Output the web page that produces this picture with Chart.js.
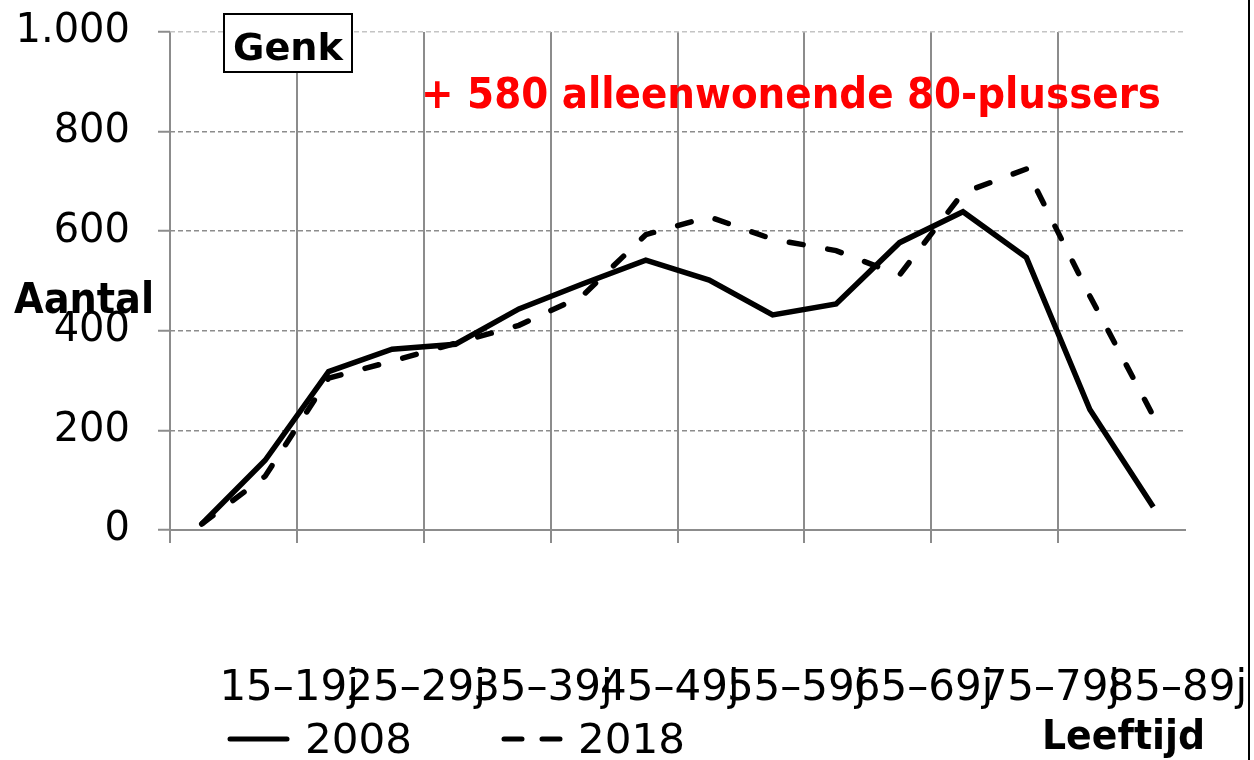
<!DOCTYPE html>
<html>
<head>
<meta charset="utf-8">
<script src="https://cdn.jsdelivr.net/npm/chart.js@4.4.1/dist/chart.umd.min.js"></script>
<style>
  html, body { margin: 0; padding: 0; background: #fff; }
  #wrap { width: 1254px; height: 760px; }
</style>
</head>
<body>
<div id="wrap"><canvas id="chart" width="1254" height="760"></canvas></div>
<script>
// age groups (x axis), only every other one gets a label
const ageGroups = ['10–14j', '15–19j', '20–24j', '25–29j', '30–34j', '35–39j', '40–44j', '45–49j',
                   '50–54j', '55–59j', '60–64j', '65–69j', '70–74j', '75–79j', '80–84j', '85–89j'];
// number of people living alone
const values2008 = [12, 140, 318, 363, 373, 444, 494, 542, 502, 432, 454, 577, 639, 547, 242, 46];
const values2018 = [12, 108, 305, 339, 375, 411, 470, 593, 629, 584, 561, 512, 677, 725, 470, 229];
const seriesNames = ['2008', '2018'];
const yTicks = [0, 200, 400, 600, 800, 1000];

const GRID = '#8c8c8c';
const FONT = 'DejaVu Sans';

function fmt(v) {
    return String(v).replace(/\B(?=(\d{3})+(?!\d))/g, '.');
}

// draw text squeezed/stretched to a given width
function fitText(ctx, text, x, y, width, font, color) {
    ctx.save();
    ctx.font = font;
    ctx.fillStyle = color;
    ctx.textAlign = 'left';
    ctx.textBaseline = 'alphabetic';
    const w = ctx.measureText(text).width;
    ctx.translate(x, y);
    ctx.scale(width / w, 1);
    ctx.fillText(text, 0, 0);
    ctx.restore();
}

const extras = {
    id: 'extras',
    afterDraw(chart) {
        const ctx = chart.ctx;
        const ds = chart.data.datasets;

        // "Genk" box
        ctx.save();
        ctx.fillStyle = '#fff';
        ctx.fillRect(224, 14, 128, 58);
        ctx.strokeStyle = '#000';
        ctx.lineWidth = 2;
        ctx.strokeRect(224, 14, 128, 58);
        ctx.restore();
        fitText(ctx, 'Genk', 233, 60, 110, 'bold 38px "' + FONT + '"', '#000');

        fitText(ctx, '+ 580 alleenwonende 80-plussers', 421, 108, 740,
            'bold 43px "DejaVu Sans Condensed", "DejaVu Sans", sans-serif', '#ff0000');

        // axis titles
        fitText(ctx, 'Aantal', 14, 313, 140, 'bold 42px "' + FONT + '"', '#000');
        fitText(ctx, 'Leeftijd', 1042, 749, 163, 'bold 41px "' + FONT + '"', '#000');

        // legend
        const legendX = [230, 504];
        const textX = [305, 578];
        ds.forEach((d, i) => {
            ctx.save();
            ctx.strokeStyle = d.borderColor;
            ctx.lineWidth = 5;
            ctx.lineCap = 'round';
            ctx.setLineDash(d.borderDash && d.borderDash.length ? [18, 20] : []);
            ctx.beginPath();
            ctx.moveTo(legendX[i], 739);
            ctx.lineTo(legendX[i] + 57, 739);
            ctx.stroke();
            ctx.restore();
            fitText(ctx, d.label, textX[i], 753, 107, '40px "' + FONT + '"', '#000');
        });

        // right frame edge
        ctx.save();
        ctx.strokeStyle = '#000';
        ctx.lineWidth = 2;
        ctx.beginPath();
        ctx.moveTo(1249, 0);
        ctx.lineTo(1249, 760);
        ctx.stroke();
        ctx.restore();
    }
};

new Chart(document.getElementById('chart'), {
    type: 'line',
    data: {
        labels: ageGroups,
        datasets: [{
            label: seriesNames[0],
            data: values2008,
            borderColor: '#000',
            borderWidth: 5.5,
            pointRadius: 0,
            tension: 0,
            fill: false
        }, {
            label: seriesNames[1],
            data: values2018,
            borderColor: '#000',
            borderWidth: 5.5,
            borderDash: [14, 25],
            borderCapStyle: 'round',
            pointRadius: 0,
            tension: 0,
            fill: false
        }]
    },
    options: {
        responsive: false,
        animation: false,
        layout: { padding: { top: 32, right: 69, left: 0, bottom: 0 } },
        plugins: {
            legend: { display: false },
            tooltip: { enabled: false }
        },
        scales: {
            x: {
                offset: true,
                grid: {
                    offset: true,
                    color: c => c.index % 2 === 0 ? GRID : 'rgba(0,0,0,0)',
                    lineWidth: 2,
                    tickLength: 13
                },
                border: { display: true, color: GRID, width: 2 },
                ticks: {
                    autoSkip: false,
                    maxRotation: 0,
                    minRotation: 0,
                    padding: 121,
                    labelOffset: 24,
                    color: '#000',
                    font: { family: FONT, size: 42 },
                    callback: (v, i) => i % 2 === 1 ? ageGroups[i] : ''
                },
                afterFit: s => {
                    s.height = 230;
                    s.paddingLeft = 0;
                    s.paddingRight = 0;
                }
            },
            y: {
                min: 0,
                max: 1000,
                border: { display: false, dash: [5, 3] },
                grid: {
                    color: c => {
                        const v = c.tick ? c.tick.value : -1;
                        if (v === 0 || !yTicks.includes(v)) return 'rgba(0,0,0,0)';
                        return v === 1000 ? '#c4c4c4' : GRID;
                    },
                    lineWidth: 1.5,
                    tickColor: GRID,
                    tickWidth: 2,
                    tickLength: 12
                },
                ticks: {
                    stepSize: 100,
                    padding: 28,
                    color: '#000',
                    font: { family: FONT, size: 40 },
                    callback: v => yTicks.includes(v) ? fmt(v) : ''
                },
                afterFit: s => {
                    s.width = 170;
                    s.paddingTop = 0;
                    s.paddingBottom = 0;
                }
            }
        }
    },
    plugins: [extras]
});
</script>
</body>
</html>
